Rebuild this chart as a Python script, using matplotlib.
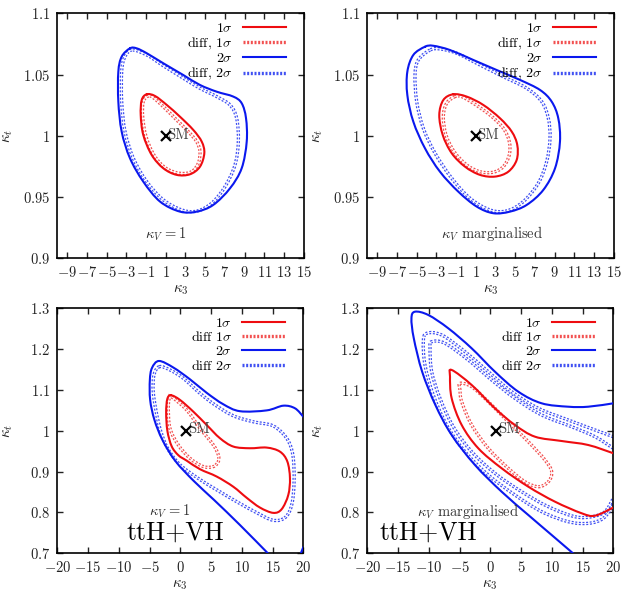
import matplotlib
matplotlib.use("Agg")
import matplotlib.pyplot as plt
from matplotlib.lines import Line2D
from matplotlib.path import Path
from matplotlib.patches import PathPatch
from matplotlib.ticker import FixedLocator, FuncFormatter

plt.rcParams['font.family'] = 'serif'
plt.rcParams['font.serif'] = ['cmr10', 'DejaVu Serif']
plt.rcParams['mathtext.fontset'] = 'cm'
plt.rcParams['axes.unicode_minus'] = True

RED = '#ee0c10'
BLUE = '#0a18ee'
RED_D = '#f25050'
BLUE_D = '#4050f2'

# ---------------- Panel 1 (kappa_V = 1) ----------------
p1_s1_x = [-0.93, -1.44, -1.54, -1.28, -0.43, 0.75, 2.11, 3.46, 4.47, 4.91, 4.65, 3.79, 2.44, 1.10, -0.09]
p1_s1_y = [1.0339, 1.0292, 1.017, 1.0007, 0.9844, 0.9735, 0.9681, 0.9686, 0.9748, 0.9858, 0.9952, 1.0048, 1.0156, 1.0252, 1.0325]
p1_d1_x = [-0.77, -1.28, -1.34, -1.00, -0.16, 1.02, 2.44, 3.63, 4.30, 4.47, 4.14, 3.29, 2.11, 0.75, -0.26]
p1_d1_y = [1.0325, 1.0279, 1.0156, 0.9993, 0.9838, 0.9735, 0.9694, 0.9707, 0.9776, 0.9871, 0.9952, 1.0034, 1.0129, 1.0238, 1.0311]
p1_s2_x = [-2.63, -3.47, -3.81, -3.81, -3.47, -2.63, -1.28, 0.42, 2.44, 4.14, 5.82, 7.52, 8.70, 9.21, 9.14, 8.70, 7.85, 6.17, 4.47, 2.78, 0.75, -0.93, -1.95]
p1_s2_y = [1.0714, 1.0646, 1.0523, 1.0279, 1.0034, 0.9817, 0.9626, 0.9463, 0.9381, 0.9381, 0.9436, 0.9572, 0.9735, 0.9952, 1.0143, 1.0266, 1.032, 1.036, 1.0415, 1.0496, 1.0592, 1.0674, 1.0714]
p1_d2_x = [-2.46, -3.20, -3.47, -3.47, -3.13, -2.29, -0.93, 0.75, 2.62, 4.14, 5.66, 7.01, 8.02, 8.36, 8.19, 7.52, 6.17, 4.47, 2.78, 0.75, -0.93]
p1_d2_y = [1.07, 1.0635, 1.0523, 1.0279, 1.0034, 0.9817, 0.9626, 0.9477, 0.9395, 0.9385, 0.945, 0.9585, 0.9762, 0.9952, 1.0143, 1.0251, 1.032, 1.0388, 1.047, 1.0572, 1.066]

# ---------------- Panel 2 (kappa_V marginalised) ----------------
p2_s1_x = [-1.28, -2.29, -2.70, -2.35, -1.44, -0.09, 1.43, 2.95, 4.30, 5.15, 5.21, 4.65, 3.46, 1.76, 0.08]
p2_s1_y = [1.0339, 1.0292, 1.017, 1.0007, 0.9858, 0.9748, 0.9681, 0.9667, 0.9707, 0.9803, 0.9925, 1.0034, 1.0143, 1.0252, 1.032]
p2_d1_x = [-1.11, -1.95, -2.29, -2.02, -1.19, 0.08, 1.43, 2.78, 3.79, 4.40, 4.40, 3.79, 2.44, 0.75, -0.43]
p2_d1_y = [1.032, 1.0266, 1.0156, 1.0007, 0.987, 0.9762, 0.9707, 0.9703, 0.9748, 0.9844, 0.9952, 1.0062, 1.017, 1.0266, 1.032]
p2_s2_x = [-4.15, -5.33, -5.94, -5.94, -5.33, -4.15, -2.63, -0.77, 1.10, 2.78, 4.47, 6.17, 7.85, 9.04, 9.54, 9.37, 8.70, 7.52, 5.49, 3.12, 0.75, -1.61, -3.31]
p2_s2_y = [1.0727, 1.066, 1.0523, 1.0333, 1.0115, 0.9898, 0.9707, 0.9544, 0.9422, 0.9368, 0.9381, 0.9436, 0.9558, 0.9735, 0.9952, 1.0143, 1.0279, 1.0374, 1.0456, 1.0537, 1.0619, 1.07, 1.0735]
p2_d2_x = [-3.64, -4.83, -5.16, -4.99, -4.32, -3.13, -1.44, 0.42, 2.44, 4.14, 5.82, 7.34, 8.19, 8.53, 8.36, 7.69, 6.17, 3.79, 1.43, -0.93, -2.63]
p2_d2_y = [1.07, 1.0619, 1.0497, 1.0279, 1.0062, 0.9858, 0.9654, 0.949, 0.9395, 0.9387, 0.9463, 0.9613, 0.9789, 0.998, 1.0143, 1.0279, 1.0388, 1.0483, 1.0578, 1.0674, 1.0709]

# ---------------- Panel 3 (ttH+VH, kappa_V = 1) ----------------
p3_s1_x = [-1.50, -2.11, -2.30, -2.10, -1.40, -0.30, 1.03, 3.20, 5.91, 8.62, 10.79, 12.95, 15.12, 16.48, 17.56, 17.83, 17.40, 16.20, 14.04, 11.33, 8.62, 6.45, 4.28, 2.11, -0.05]
p3_s1_y = [1.087, 1.078, 1.045, 1.000, 0.962, 0.940, 0.927, 0.906, 0.888, 0.863, 0.836, 0.812, 0.799, 0.808, 0.843, 0.884, 0.925, 0.949, 0.9589, 0.9573, 0.9614, 0.9818, 1.0144, 1.047, 1.0756]
p3_d1_x = [-1.40, 1.03, 3.20, 5.37, 6.18, 6.18, 5.37, 3.74, 1.57, -0.33, -1.68, -1.95, -1.79]
p3_d1_y = [1.083, 1.0511, 1.0062, 0.9654, 0.941, 0.9246, 0.9124, 0.9124, 0.9328, 0.9654, 1.0062, 1.0552, 1.0797]
p3_s2_x = [20.0, 18.65, 16.75, 14.05, 9.70, 6.99, 4.29, 1.58, -1.14, -3.46, -4.60, -4.95, -4.90, -4.20, -2.90, -0.80, 2.20, 5.50, 9.70, 14.24]
p3_s2_y = [1.0345, 1.0551, 1.0615, 1.050, 1.048, 1.065, 1.093, 1.126, 1.155, 1.171, 1.154, 1.1245, 1.0755, 1.0265, 0.9775, 0.926, 0.877, 0.8305, 0.7693, 0.70]
p3_s2b_x = [19.6, 20.0]
p3_s2b_y = [0.700, 0.715]
p3_d2_x = [-3.41, -4.28, -4.40, -3.90, -3.20, -2.10, -0.20, 2.65, 5.96, 9.22, 12.47, 15.07, 17.00, 18.11, 18.50, 18.30, 17.30, 15.10, 11.90, 8.60, 5.50, 3.20, 0.49, -1.67]
p3_d2_y = [1.157, 1.1367, 1.0958, 1.045, 1.000, 0.958, 0.919, 0.886, 0.855, 0.826, 0.799, 0.781, 0.787, 0.8183, 0.8753, 0.9407, 0.9816, 1.012, 1.022, 1.037, 1.065, 1.0918, 1.1286, 1.1489]

# ---------------- Panel 4 (ttH+VH, kappa_V marginalised) ----------------
p4_s1_x = [20.0, 15.93, 11.6, 7.26, 4.01, 0.76, -3.03, -6.28, -6.55, -6.28, -4.65, -1.95, 1.85, 6.18, 10.52, 14.86, 17.02, 20.0]
p4_s1_y = [0.945, 0.9652, 0.975, 0.9856, 1.0142, 1.055, 1.1122, 1.149, 1.1325, 1.0796, 1.0142, 0.9571, 0.9082, 0.8631, 0.8264, 0.798, 0.7921, 0.812]
p4_d1_x = [-4.93, -3.03, -0.33, 2.92, 6.18, 8.89, 9.98, 9.44, 7.81, 5.64, 2.92, -0.33, -3.03, -4.65, -4.93]
p4_d1_y = [1.1163, 1.108, 1.0713, 1.0222, 0.9733, 0.9285, 0.8998, 0.8753, 0.8631, 0.8753, 0.9082, 0.9571, 1.0142, 1.0713, 1.10]
p4_s2_x = [20.0, 15.93, 12.68, 8.36, 4.55, 0.76, -3.03, -6.83, -10.08, -12.24, -12.82, -12.44, -11.08, -8.93, -6.28, -2.49, 1.85, 6.18, 9.98, 13.45]
p4_s2_y = [1.0673, 1.059, 1.059, 1.0673, 1.0958, 1.1447, 1.202, 1.251, 1.2836, 1.2917, 1.2755, 1.2265, 1.1447, 1.0632, 0.9897, 0.9162, 0.8508, 0.7938, 0.7448, 0.70]
p4_d2a_x = [20.0, 17.02, 12.68, 7.81, 3.47, -0.33, -4.11, -7.90, -10.34, -10.89, -10.62, -9.27, -7.10, -4.11, -0.33, 4.01, 8.36, 12.68, 15.93, 18.37, 20.0]
p4_d2a_y = [0.9856, 1.002, 1.0264, 1.0551, 1.0958, 1.1447, 1.1937, 1.2346, 1.2388, 1.2182, 1.1611, 1.0877, 1.0142, 0.9488, 0.8918, 0.8428, 0.8019, 0.7774, 0.7734, 0.7857, 0.8183]
p4_d2b_x = [20.0, 17.02, 13.23, 8.36, 4.01, 0.22, -3.58, -7.37, -9.53, -9.80, -9.53, -8.18, -6.02, -3.03, 0.76, 5.10, 9.44, 13.77, 16.48, 18.64, 20.0]
p4_d2b_y = [0.9571, 0.9856, 1.01, 1.0387, 1.0796, 1.1244, 1.1734, 1.2143, 1.2182, 1.202, 1.1447, 1.0796, 1.01, 0.9488, 0.8959, 0.8508, 0.8141, 0.7896, 0.7896, 0.8019, 0.8347]

x_ticks_top = [-9, -7, -5, -3, -1, 1, 3, 5, 7, 9, 11, 13, 15]
y_ticks_top = [0.9, 0.95, 1.0, 1.05, 1.1]
x_ticks_bot = [-20, -15, -10, -5, 0, 5, 10, 15, 20]
y_ticks_bot = [0.7, 0.8, 0.9, 1.0, 1.1, 1.2, 1.3]

fig = plt.figure(figsize=(6.21, 5.92), dpi=100)
W, H = 621.0, 592.0
pos = {
    1: [57.3 / W, (H - 258.3) / H, 246.5 / W, 245.0 / H],
    2: [367.3 / W, (H - 258.3) / H, 246.5 / W, 245.0 / H],
    3: [57.3 / W, (H - 553.3) / H, 246.0 / W, 245.0 / H],
    4: [367.3 / W, (H - 553.3) / H, 246.0 / W, 245.0 / H],
}


def fmt(v, _):
    return r'$%g$' % v


def smooth_path(xs, ys, closed):
    pts = list(zip(xs, ys))
    n = len(pts)
    verts = [pts[0]]
    codes = [Path.MOVETO]
    nseg = n if closed else n - 1
    for i in range(nseg):
        if closed:
            p0, p1, p2, p3 = pts[i - 1], pts[i], pts[(i + 1) % n], pts[(i + 2) % n]
        else:
            p0 = pts[max(i - 1, 0)]
            p1 = pts[i]
            p2 = pts[i + 1]
            p3 = pts[min(i + 2, n - 1)]
        c1 = (p1[0] + (p2[0] - p0[0]) / 6.0, p1[1] + (p2[1] - p0[1]) / 6.0)
        c2 = (p2[0] - (p3[0] - p1[0]) / 6.0, p2[1] - (p3[1] - p1[1]) / 6.0)
        verts += [c1, c2, p2]
        codes += [Path.CURVE4] * 3
    return Path(verts, codes)


def solid(ax, xs, ys, color, closed=True):
    ax.add_patch(PathPatch(smooth_path(xs, ys, closed), fill=False, edgecolor=color,
                           lw=1.5, joinstyle='round', capstyle='round', zorder=3))


def dotted(ax, xs, ys, color, closed=True):
    p = smooth_path(xs, ys, closed)
    ax.add_patch(PathPatch(p, fill=False, edgecolor=color, lw=2.4,
                           linestyle=(0, (0.6, 0.5)), zorder=2))
    ax.add_patch(PathPatch(p, fill=False, edgecolor='white', lw=0.6, zorder=2.1))


def setup(ax, xlim, ylim, xt, yt):
    ax.set_xlim(*xlim)
    ax.set_ylim(*ylim)
    ax.xaxis.set_major_locator(FixedLocator(xt))
    ax.yaxis.set_major_locator(FixedLocator(yt))
    ax.xaxis.set_major_formatter(FuncFormatter(fmt))
    ax.yaxis.set_major_formatter(FuncFormatter(fmt))
    ax.tick_params(direction='in', length=4.5, width=1.0, top=True, right=True,
                   labelsize=10.5, colors='#222222', pad=5)
    for s in ax.spines.values():
        s.set_linewidth(1.2)
    ax.set_xlabel(r'$\kappa_3$', fontsize=11, color='#222222')
    ax.set_ylabel(r'$\kappa_t$', fontsize=11, color='#222222')
    ax.xaxis.set_label_coords(0.5, -0.10)
    ax.yaxis.set_label_coords(-0.172, 0.5)
    ax.plot([1], [1], marker='x', color='black', ms=7, mew=1.6, ls='none', zorder=5)


def legend(ax, sep):
    lab1 = 'diff, ' if sep else 'diff '
    handles = [
        Line2D([], [], color=RED, lw=1.5),
        Line2D([], [], color=RED_D, lw=2.4, ls=(0, (0.6, 0.5))),
        Line2D([], [], color=BLUE, lw=1.5),
        Line2D([], [], color=BLUE_D, lw=2.4, ls=(0, (0.6, 0.5))),
    ]
    labels = [r'1$\sigma$', lab1 + r'1$\sigma$', r'2$\sigma$', lab1 + r'2$\sigma$']
    ax.legend(handles, labels, loc='upper right', frameon=False, markerfirst=False,
              fontsize=10, handlelength=3.1, labelspacing=0.05, borderaxespad=0.2,
              handletextpad=0.7, bbox_to_anchor=(0.96, 1.0))


# Panel 1
ax = fig.add_axes(pos[1])
setup(ax, (-10, 15), (0.9, 1.1), x_ticks_top, y_ticks_top)
dotted(ax, p1_d2_x, p1_d2_y, BLUE_D)
dotted(ax, p1_d1_x, p1_d1_y, RED_D)
solid(ax, p1_s2_x, p1_s2_y, BLUE)
solid(ax, p1_s1_x, p1_s1_y, RED)
ax.text(1.1, 1.0007, 'SM', fontsize=10.5, color='#444444', va='center', ha='left')
ax.text(1.0, 0.92, r'$\kappa_V\,=1$', fontsize=10.5, ha='center', va='center', color='#333333')
legend(ax, True)

# Panel 2
ax = fig.add_axes(pos[2])
setup(ax, (-10, 15), (0.9, 1.1), x_ticks_top, y_ticks_top)
dotted(ax, p2_d2_x, p2_d2_y, BLUE_D)
dotted(ax, p2_d1_x, p2_d1_y, RED_D)
solid(ax, p2_s2_x, p2_s2_y, BLUE)
solid(ax, p2_s1_x, p2_s1_y, RED)
ax.text(1.1, 1.0007, 'SM', fontsize=10.5, color='#444444', va='center', ha='left')
ax.text(2.6, 0.92, r'$\kappa_V$ marginalised', fontsize=10.5, ha='center', va='center', color='#333333')
legend(ax, True)

# Panel 3
ax = fig.add_axes(pos[3])
setup(ax, (-20, 20), (0.7, 1.3), x_ticks_bot, y_ticks_bot)
dotted(ax, p3_d2_x, p3_d2_y, BLUE_D)
dotted(ax, p3_d1_x, p3_d1_y, RED_D)
solid(ax, p3_s2_x, p3_s2_y, BLUE, closed=False)
solid(ax, p3_s2b_x, p3_s2b_y, BLUE, closed=False)
solid(ax, p3_s1_x, p3_s1_y, RED)
ax.text(1.2, 1.003, 'SM', fontsize=10.5, color='#444444', va='center', ha='left')
ax.text(-1.7, 0.802, r'$\kappa_V\,=1$', fontsize=10.5, ha='center', va='center', color='#333333')
ax.text(-0.8, 0.733, 'ttH+VH', fontsize=18.5, ha='center', va='baseline', color='black')
legend(ax, False)

# Panel 4
ax = fig.add_axes(pos[4])
setup(ax, (-20, 20), (0.7, 1.3), x_ticks_bot, y_ticks_bot)
dotted(ax, p4_d2a_x, p4_d2a_y, BLUE_D, closed=False)
dotted(ax, p4_d2b_x, p4_d2b_y, BLUE_D, closed=False)
dotted(ax, p4_d1_x, p4_d1_y, RED_D)
solid(ax, p4_s2_x, p4_s2_y, BLUE, closed=False)
solid(ax, p4_s1_x, p4_s1_y, RED, closed=False)
ax.text(1.2, 1.003, 'SM', fontsize=10.5, color='#444444', va='center', ha='left')
ax.text(-3.6, 0.802, r'$\kappa_V$ marginalised', fontsize=10.5, ha='center', va='center', color='#333333')
ax.text(-10.1, 0.733, 'ttH+VH', fontsize=18.5, ha='center', va='baseline', color='black')
legend(ax, False)

fig.savefig('out.png', dpi=100)
